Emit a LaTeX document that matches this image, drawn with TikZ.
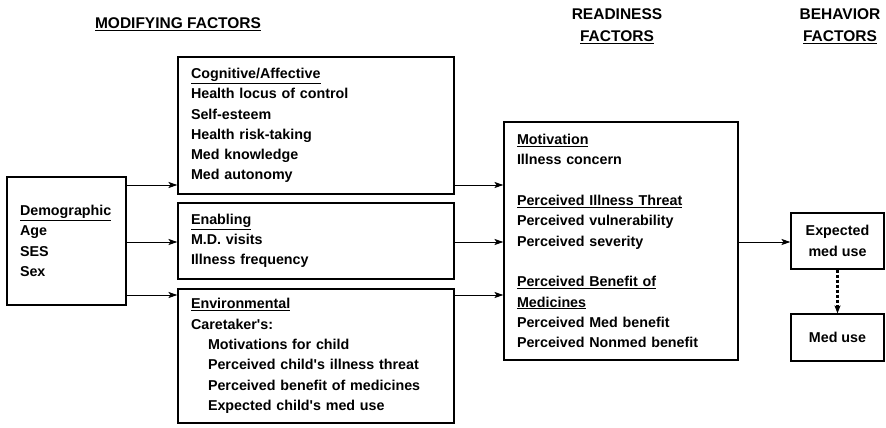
\documentclass[tikz,border=0pt]{standalone}
\usepackage{fontspec}
\setmainfont{Liberation Sans}
\usetikzlibrary{arrows.meta}
\tikzset{
  bodyfont/.style={font=\bfseries\fontsize{14.3}{20.3}\selectfont},
  headfont/.style={font=\bfseries\fontsize{15.5}{22}\selectfont},
  factorbox/.style={draw, line width=1.1pt, bodyfont, align=left, inner ysep=0pt, inner xsep=13pt},
  smallbox/.style={draw, line width=1.1pt, bodyfont, align=center, inner sep=0pt},
  head/.style={headfont, anchor=base, inner sep=0pt},
  arr/.style={line width=0.9pt, -{Stealth[length=9pt,width=6pt,inset=2pt]}},
  dasharr/.style={line width=2.2pt, dash pattern=on 3pt off 2pt, -{Stealth[length=8pt,width=6pt,inset=2pt]}}
}
\begin{document}
\begin{tikzpicture}[x=1pt,y=-1pt]
\useasboundingbox (0,0) rectangle (886,428);
% headings
\node[head] (hmod) at (178,29) {\underline{MODIFYING FACTORS}};
\node[head] (hread1) at (617,20) {READINESS};
\node[head] (hread2) at (617,42) {\underline{FACTORS}};
\node[head] (hbeh1) at (840,20) {BEHAVIOR};
\node[head] (hbeh2) at (840,42) {\underline{FACTORS}};
% boxes
\node[factorbox, text width=93pt, minimum height=128pt] (demo) at (66.5,241)
  {\underline{Demographic}\\Age\\SES\\Sex};
\node[factorbox, text width=250pt, minimum height=137pt] (cog) at (316,125.5)
  {\underline{Cognitive/Affective}\\Health locus of control\\Self-esteem\\Health risk-taking\\Med knowledge\\Med autonomy};
\node[factorbox, text width=250pt, minimum height=76pt] (enab) at (316,241)
  {\underline{Enabling}\\M.D. visits\\Illness frequency};
\node[factorbox, text width=250pt, minimum height=134pt] (env) at (316,356)
  {\underline{Environmental}\\Caretaker\textquotesingle s:\\\hspace*{17pt}Motivations for child\\\hspace*{17pt}Perceived child\textquotesingle s illness threat\\\hspace*{17pt}Perceived benefit of medicines\\\hspace*{17pt}Expected child\textquotesingle s med use};
\node[factorbox, text width=208pt, minimum height=238pt] (ready) at (621,241)
  {\underline{Motivation}\\Illness concern\\[20.3pt]\underline{Perceived Illness Threat}\\Perceived vulnerability\\Perceived severity\\[20.3pt]\underline{Perceived Benefit of}\\\underline{Medicines}\\Perceived Med benefit\\Perceived Nonmed benefit};
\node[smallbox, minimum width=93pt, minimum height=56pt] (exp) at (837.5,241)
  {Expected\\med use};
\node[smallbox, minimum width=93pt, minimum height=47pt] (use) at (837.5,337.5)
  {Med use};
% arrow rows
\coordinate (r1) at (0,185);
\coordinate (r2) at (0,242);
\coordinate (r3) at (0,295);
\draw[arr] (demo.east|-r1) -- (cog.west|-r1);
\draw[arr] (demo.east|-r2) -- (enab.west|-r2);
\draw[arr] (demo.east|-r3) -- (env.west|-r3);
\draw[arr] (cog.east|-r1) -- (ready.west|-r1);
\draw[arr] (enab.east|-r2) -- (ready.west|-r2);
\draw[arr] (env.east|-r3) -- (ready.west|-r3);
\draw[arr] (ready.east|-r2) -- (exp.west|-r2);
\draw[dasharr] (exp.south) -- (use.north);
\end{tikzpicture}
\end{document}
